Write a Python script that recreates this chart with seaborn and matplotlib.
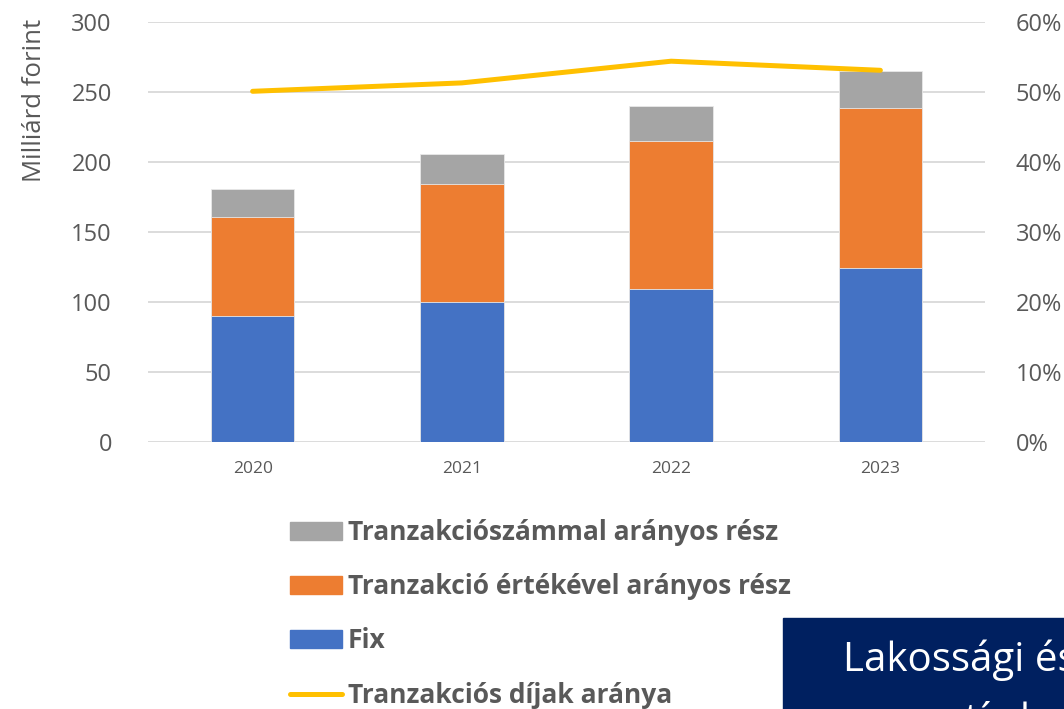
import matplotlib.pyplot as plt
import seaborn as sns
import pandas as pd
from matplotlib.patches import Patch, Rectangle
from matplotlib.lines import Line2D
from matplotlib.ticker import PercentFormatter

sns.set_theme(style="white")
plt.rcParams["font.family"] = ["Open Sans", "DejaVu Sans"]

years = ["2020", "2021", "2022", "2023"]
fix = [90, 100, 109, 124]
value_part = [71, 84, 106, 114.5]
count_part = [20, 22, 25, 26.5]
fee_share = [50.1, 51.3, 54.4, 53.1]

labels = [
    "Tranzakciószámmal arányos rész",
    "Tranzakció értékével arányos rész",
    "Fix",
    "Tranzakciós díjak aránya",
]
colors = {"fix": "#4472C4", "value": "#ED7D31", "count": "#A5A5A5", "line": "#FFC000"}
text_col = "#595959"
grid_col = "#D9D9D9"

df = pd.DataFrame({"year": years, "fix": fix, "value": value_part,
                   "count": count_part, "share": fee_share})
df["pos"] = df.index
df["fix_value"] = df["fix"] + df["value"]
df["total"] = df["fix_value"] + df["count"]

fig = plt.figure(figsize=(10.64, 7.09), dpi=100)
ax = fig.add_axes([148 / 1064, 1 - 442 / 709, (985 - 148) / 1064, 420 / 709])

# stacked bars: draw cumulative heights from the top down
for col, c in [("total", colors["count"]), ("fix_value", colors["value"]), ("fix", colors["fix"])]:
    sns.barplot(data=df, x="year", y=col, color=c, width=0.4, saturation=1, ax=ax,
                zorder=2, edgecolor="#E8E8E8", linewidth=0.6)

ax.set_ylim(0, 300)
ax.set_xlim(-0.5, 3.5)
ax.set_yticks(range(0, 301, 50))
ax.yaxis.grid(True, color=grid_col, linewidth=1.3, zorder=0)
ax.set_axisbelow(True)
for s in ax.spines.values():
    s.set_visible(False)
ax.set_xlabel("")
ax.set_ylabel("")
ax.tick_params(axis="y", labelsize=17, colors=text_col, length=0, pad=26)
ax.tick_params(axis="x", labelsize=12.5, colors=text_col, length=0, pad=14)

ax2 = ax.twinx()
sns.lineplot(data=df, x="pos", y="share", color=colors["line"], linewidth=3.6,
             solid_capstyle="round", ax=ax2)
ax2.set_ylim(0, 60)
ax2.set_yticks(range(0, 61, 10))
ax2.yaxis.set_major_formatter(PercentFormatter(decimals=0))
ax2.set_xlim(-0.5, 3.5)
ax2.set_ylabel("")
ax2.set_xlabel("")
for s in ax2.spines.values():
    s.set_visible(False)
ax2.tick_params(axis="y", labelsize=17, colors=text_col, length=0, pad=22)

fig.text(35 / 1064, 1 - 100 / 709, "Milliárd forint", rotation=90, ha="center",
         va="center", fontsize=18.5, color=text_col)

handles = [
    Patch(color=colors["count"]),
    Patch(color=colors["value"]),
    Patch(color=colors["fix"]),
    Line2D([], [], color=colors["line"], linewidth=3.6, solid_capstyle="round"),
]
leg = fig.legend(handles, labels, loc="upper left", bbox_to_anchor=(290 / 1064, 1 - 519 / 709),
                 frameon=False, prop={"size": 19, "weight": "bold"}, labelcolor=text_col,
                 handlelength=1.97, handleheight=0.65, handletextpad=0.23, labelspacing=1.03,
                 borderaxespad=0, borderpad=0)

# overlapping slide title box (cut by the image edge)
fig.patches.append(Rectangle((783 / 1064, 0), 1, 1 - 618 / 709, transform=fig.transFigure,
                             color="#002060", zorder=5))
fig.text(843 / 1064, 1 - 660 / 709, "Lakossági és", color="white", fontsize=29,
         ha="left", va="center", zorder=6)
fig.text(873 / 1064, 1 - 722 / 709, "negatív ha", color="white", fontsize=29,
         ha="left", va="center", zorder=6)

fig.savefig("out.png", dpi=100)
